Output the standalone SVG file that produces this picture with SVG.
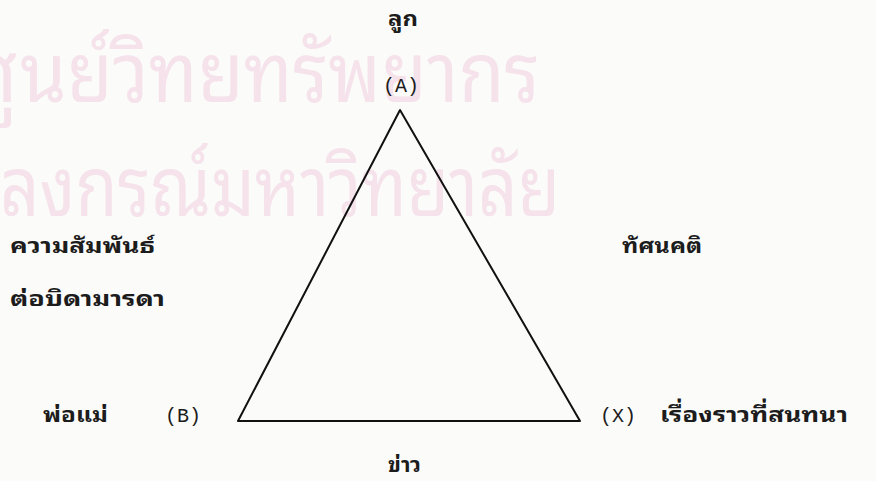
<svg xmlns="http://www.w3.org/2000/svg" width="876" height="481" viewBox="0 0 876 481">
<style>
.bg{fill:#fbfbfa}
.wm{font-family:"Noto Sans Thai Looped","Noto Sans Thai","Noto Sans",sans-serif;font-size:82px;fill:#f5e2ea}
.th{font-family:"Noto Sans Thai Looped","Noto Serif Thai","Noto Sans Thai","Noto Sans",sans-serif;font-size:21px;font-weight:bold;fill:#1c1c1c}
.mono{font-family:"Liberation Mono",monospace;font-size:20px;fill:#1c1c1c}
.edge{fill:none;stroke:#111;stroke-width:2;stroke-linejoin:round}
</style>
<rect class="bg" x="0" y="0" width="876" height="481"/>
<g id="watermark">
<text class="wm" x="18" y="102" text-anchor="end">ศู</text>
<text class="wm" x="20" y="102" textLength="520" lengthAdjust="spacingAndGlyphs">นย์วิทยทรัพยากร</text>
<text class="wm" x="-2" y="216" text-anchor="end">จุฬา</text>
<text class="wm" x="0" y="216" textLength="560" lengthAdjust="spacingAndGlyphs">ลงกรณ์มหาวิทยาลัย</text>
</g>
<g id="connectors">
<path class="edge" d="M400,110 L238,421 L580,421 Z"/>
</g>
<g id="node-A">
<text class="th" x="388" y="26" textLength="30" lengthAdjust="spacingAndGlyphs">ลูก</text>
<text class="mono" x="401" y="92" text-anchor="middle">(A)</text>
</g>
<g id="node-B">
<text class="th" x="43" y="422" textLength="65" lengthAdjust="spacingAndGlyphs">พ่อแม่</text>
<text class="mono" x="165" y="422">(B)</text>
</g>
<g id="node-X">
<text class="mono" x="600" y="422">(X)</text>
<text class="th" x="660" y="422" textLength="188" lengthAdjust="spacingAndGlyphs">เรื่องราวที่สนทนา</text>
</g>
<g id="label-AB">
<text class="th" x="10" y="253" textLength="145" lengthAdjust="spacingAndGlyphs">ความสัมพันธ์</text>
<text class="th" x="10" y="306" textLength="155" lengthAdjust="spacingAndGlyphs">ต่อบิดามารดา</text>
</g>
<g id="label-AX">
<text class="th" x="622" y="253" textLength="80" lengthAdjust="spacingAndGlyphs">ทัศนคติ</text>
</g>
<g id="label-BX">
<text class="th" x="388" y="472" textLength="33" lengthAdjust="spacingAndGlyphs">ข่าว</text>
</g>
</svg>
